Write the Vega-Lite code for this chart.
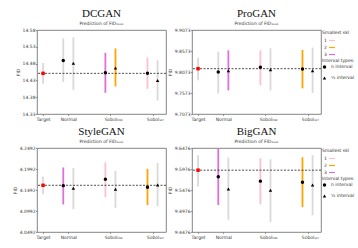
{
  "$schema": "https://vega.github.io/schema/vega-lite/v6.json",
  "padding": {"left": 11, "top": 7, "right": 0, "bottom": 0},
  "background": "white",
  "datasets": {
    "d": [
      {"m": "DCGAN", "g": "Target", "k": "t", "s": "0", "x": 0, "v": 14.451, "lo": 14.42, "hi": 14.482},
      {"m": "DCGAN", "g": "Normal", "k": "n", "s": "0", "x": 1.2, "v": 14.489, "lo": 14.425, "hi": 14.555},
      {"m": "DCGAN", "g": "Normal", "k": "h", "s": "0", "x": 1.8, "v": 14.481, "lo": 14.402, "hi": 14.558},
      {"m": "DCGAN", "g": "low", "k": "n", "s": "3", "x": 3.7, "v": 14.453, "lo": 14.393, "hi": 14.512},
      {"m": "DCGAN", "g": "low", "k": "h", "s": "2", "x": 4.3, "v": 14.467, "lo": 14.412, "hi": 14.525},
      {"m": "DCGAN", "g": "scr", "k": "n", "s": "1", "x": 6.2, "v": 14.451, "lo": 14.405, "hi": 14.498},
      {"m": "DCGAN", "g": "scr", "k": "h", "s": "0", "x": 6.8, "v": 14.43, "lo": 14.37, "hi": 14.49},
      {"m": "ProGAN", "g": "Target", "k": "t", "s": "0", "x": 0, "v": 9.8152, "lo": 9.7875, "hi": 9.8414},
      {"m": "ProGAN", "g": "Normal", "k": "n", "s": "0", "x": 1.2, "v": 9.8073, "lo": 9.7557, "hi": 9.8557},
      {"m": "ProGAN", "g": "Normal", "k": "h", "s": "3", "x": 1.8, "v": 9.8105, "lo": 9.7636, "hi": 9.8589},
      {"m": "ProGAN", "g": "low", "k": "n", "s": "1", "x": 3.7, "v": 9.8184, "lo": 9.7756, "hi": 9.8589},
      {"m": "ProGAN", "g": "low", "k": "h", "s": "0", "x": 4.3, "v": 9.8129, "lo": 9.7636, "hi": 9.8637},
      {"m": "ProGAN", "g": "scr", "k": "n", "s": "2", "x": 6.2, "v": 9.8144, "lo": 9.7684, "hi": 9.8597},
      {"m": "ProGAN", "g": "scr", "k": "h", "s": "0", "x": 6.8, "v": 9.8105, "lo": 9.7573, "hi": 9.8652},
      {"m": "StyleGAN", "g": "Target", "k": "t", "s": "0", "x": 0, "v": 4.1604, "lo": 4.1388, "hi": 4.1812},
      {"m": "StyleGAN", "g": "Normal", "k": "n", "s": "3", "x": 1.2, "v": 4.1596, "lo": 4.1148, "hi": 4.2028},
      {"m": "StyleGAN", "g": "Normal", "k": "h", "s": "0", "x": 1.8, "v": 4.1532, "lo": 4.1036, "hi": 4.2012},
      {"m": "StyleGAN", "g": "low", "k": "n", "s": "1", "x": 3.7, "v": 4.1748, "lo": 4.132, "hi": 4.2148},
      {"m": "StyleGAN", "g": "low", "k": "h", "s": "0", "x": 4.3, "v": 4.1508, "lo": 4.1068, "hi": 4.1948},
      {"m": "StyleGAN", "g": "scr", "k": "n", "s": "2", "x": 6.2, "v": 4.156, "lo": 4.1132, "hi": 4.1996},
      {"m": "StyleGAN", "g": "scr", "k": "h", "s": "0", "x": 6.8, "v": 4.1612, "lo": 4.1108, "hi": 4.2132},
      {"m": "BigGAN", "g": "Target", "k": "t", "s": "0", "x": 0, "v": 9.5948, "lo": 9.5557, "hi": 9.6305},
      {"m": "BigGAN", "g": "Normal", "k": "n", "s": "3", "x": 1.2, "v": 9.5793, "lo": 9.5118, "hi": 9.6452},
      {"m": "BigGAN", "g": "Normal", "k": "h", "s": "0", "x": 1.8, "v": 9.55, "lo": 9.4769, "hi": 9.6248},
      {"m": "BigGAN", "g": "low", "k": "n", "s": "1", "x": 3.7, "v": 9.5687, "lo": 9.5135, "hi": 9.6232},
      {"m": "BigGAN", "g": "low", "k": "h", "s": "0", "x": 4.3, "v": 9.5468, "lo": 9.4712, "hi": 9.6208},
      {"m": "BigGAN", "g": "scr", "k": "n", "s": "2", "x": 6.2, "v": 9.5663, "lo": 9.507, "hi": 9.6256},
      {"m": "BigGAN", "g": "scr", "k": "h", "s": "0", "x": 6.8, "v": 9.5598, "lo": 9.4874, "hi": 9.6305}
    ]
  },
  "columns": 2,
  "bounds": "flush",
  "spacing": {"row": 34, "column": 26},
  "resolve": {
    "scale": {"x": "independent", "y": "independent", "color": "independent", "shape": "independent"},
    "legend": {"color": "independent", "shape": "independent"},
    "axis": {"x": "independent", "y": "independent"}
  },
  "concat": [
    {
      "width": 129, "height": 84,
      "data": {"name": "d"},
      "transform": [{"filter": "datum.m === 'DCGAN'"}],
      "title": {"text": "DCGAN", "subtitle": "Prediction of FID₁₀₀ₖ"},
      "layer": [
        {
          "mark": {"type": "rule", "strokeWidth": 1.8},
          "encoding": {
            "x": {"field": "x", "type": "quantitative", "scale": {"domain": [-0.36, 7.3], "nice": false, "zero": false},
                  "axis": {"values": [0, 1.5, 4, 6.5], "tickCount": 20, "title": null, "labelOverlap": false, "labelExpr": "datum.value < 1 ? 'Target' : datum.value < 2 ? 'Normal' : 'Sobol'"}},
            "y": {"field": "lo", "type": "quantitative", "scale": {"domain": [14.33, 14.58], "nice": false, "zero": false},
                  "axis": {"values": [14.33, 14.38, 14.43, 14.48, 14.53, 14.58], "tickCount": 20, "format": ".2f", "title": "FID", "labelOverlap": false, "labelFlush": false}},
            "y2": {"field": "hi"},
            "color": {"field": "s", "type": "nominal", "scale": {"domain": ["1", "2", "3", "0"], "range": ["#ffc0cb", "#ffa500", "#dd70dd", "#d9d9d9"]}, "legend": null}
          }
        },
        {
          "transform": [{"filter": "datum.k === 't'"}],
          "mark": {"type": "rule", "strokeDash": [2, 1.5], "strokeWidth": 0.8, "color": "#222"},
          "encoding": {"y": {"field": "v", "type": "quantitative"}}
        },
        {
          "transform": [{"filter": "datum.k !== 't'"}],
          "mark": {"type": "point", "filled": true, "size": 12, "color": "black", "opacity": 1},
          "encoding": {
            "x": {"field": "x", "type": "quantitative"},
            "y": {"field": "v", "type": "quantitative"},
            "shape": {"field": "k", "type": "nominal", "scale": {"domain": ["n", "h"], "range": ["circle", "triangle-up"]}, "legend": null}
          }
        },
        {
          "transform": [{"filter": "datum.k === 't'"}],
          "mark": {"type": "square", "filled": true, "size": 12, "color": "#ff0000", "opacity": 1},
          "encoding": {"x": {"field": "x", "type": "quantitative"}, "y": {"field": "v", "type": "quantitative"}}
        },
        {
          "transform": [{"filter": "datum.k === 'n' && (datum.g === 'low' || datum.g === 'scr')"}],
          "mark": {"type": "text", "fontSize": 3, "align": "left", "baseline": "top", "dx": 12, "dy": 5, "color": "#333", "font": "DejaVu Sans"},
          "encoding": {"x": {"field": "x", "type": "quantitative"}, "y": {"datum": 14.33, "type": "quantitative"}, "text": {"field": "g"}}
        }
      ]
    },
    {
      "width": 129, "height": 84,
      "data": {"name": "d"},
      "transform": [{"filter": "datum.m === 'ProGAN'"}],
      "title": {"text": "ProGAN", "subtitle": "Prediction of FID₁₀₀ₖ"},
      "layer": [
        {
          "mark": {"type": "rule", "strokeWidth": 1.8},
          "encoding": {
            "x": {"field": "x", "type": "quantitative", "scale": {"domain": [-0.36, 7.3], "nice": false, "zero": false},
                  "axis": {"values": [0, 1.5, 4, 6.5], "tickCount": 20, "title": null, "labelOverlap": false, "labelExpr": "datum.value < 1 ? 'Target' : datum.value < 2 ? 'Normal' : 'Sobol'"}},
            "y": {"field": "lo", "type": "quantitative", "scale": {"domain": [9.7073, 9.9073], "nice": false, "zero": false},
                  "axis": {"values": [9.7073, 9.7573, 9.8073, 9.8573, 9.9073], "tickCount": 20, "format": ".4f", "title": "FID", "labelOverlap": false, "labelFlush": false}},
            "y2": {"field": "hi"},
            "color": {"field": "s", "type": "nominal", "scale": {"domain": ["1", "2", "3", "0"], "range": ["#ffc0cb", "#ffa500", "#dd70dd", "#d9d9d9"]},
                      "legend": {"title": "Smallest skl", "values": ["1", "2", "3"], "orient": "none", "legendX": 130, "legendY": 0, "symbolType": "stroke", "symbolStrokeWidth": 1.2, "symbolSize": 36, "symbolOffset": 6, "labelOffset": -12, "rowPadding": 0}}
          }
        },
        {
          "transform": [{"filter": "datum.k === 't'"}],
          "mark": {"type": "rule", "strokeDash": [2, 1.5], "strokeWidth": 0.8, "color": "#222"},
          "encoding": {"y": {"field": "v", "type": "quantitative"}}
        },
        {
          "transform": [{"filter": "datum.k !== 't'"}],
          "mark": {"type": "point", "filled": true, "size": 12, "color": "black", "opacity": 1},
          "encoding": {
            "x": {"field": "x", "type": "quantitative"},
            "y": {"field": "v", "type": "quantitative"},
            "shape": {"field": "k", "type": "nominal", "scale": {"domain": ["n", "h"], "range": ["circle", "triangle-up"]},
                      "legend": {"title": "Interval types:", "orient": "none", "legendX": 130, "legendY": 28, "labelExpr": "datum.label === 'n' ? 'n interval' : 'ⁿ⁄₂ interval'", "symbolSize": 12}}
          }
        },
        {
          "transform": [{"filter": "datum.k === 't'"}],
          "mark": {"type": "square", "filled": true, "size": 12, "color": "#ff0000", "opacity": 1},
          "encoding": {"x": {"field": "x", "type": "quantitative"}, "y": {"field": "v", "type": "quantitative"}}
        },
        {
          "transform": [{"filter": "datum.k === 'n' && (datum.g === 'low' || datum.g === 'scr')"}],
          "mark": {"type": "text", "fontSize": 3, "align": "left", "baseline": "top", "dx": 12, "dy": 5, "color": "#333", "font": "DejaVu Sans"},
          "encoding": {"x": {"field": "x", "type": "quantitative"}, "y": {"datum": 9.7073, "type": "quantitative"}, "text": {"field": "g"}}
        }
      ]
    },
    {
      "width": 129, "height": 84,
      "data": {"name": "d"},
      "transform": [{"filter": "datum.m === 'StyleGAN'"}],
      "title": {"text": "StyleGAN", "subtitle": "Prediction of FID₁₀₀ₖ"},
      "layer": [
        {
          "mark": {"type": "rule", "strokeWidth": 1.8},
          "encoding": {
            "x": {"field": "x", "type": "quantitative", "scale": {"domain": [-0.36, 7.3], "nice": false, "zero": false},
                  "axis": {"values": [0, 1.5, 4, 6.5], "tickCount": 20, "title": null, "labelOverlap": false, "labelExpr": "datum.value < 1 ? 'Target' : datum.value < 2 ? 'Normal' : 'Sobol'"}},
            "y": {"field": "lo", "type": "quantitative", "scale": {"domain": [4.0492, 4.2492], "nice": false, "zero": false},
                  "axis": {"values": [4.0492, 4.0992, 4.1492, 4.1992, 4.2492], "tickCount": 20, "format": ".4f", "title": "FID", "labelOverlap": false, "labelFlush": false}},
            "y2": {"field": "hi"},
            "color": {"field": "s", "type": "nominal", "scale": {"domain": ["1", "2", "3", "0"], "range": ["#ffc0cb", "#ffa500", "#dd70dd", "#d9d9d9"]}, "legend": null}
          }
        },
        {
          "transform": [{"filter": "datum.k === 't'"}],
          "mark": {"type": "rule", "strokeDash": [2, 1.5], "strokeWidth": 0.8, "color": "#222"},
          "encoding": {"y": {"field": "v", "type": "quantitative"}}
        },
        {
          "transform": [{"filter": "datum.k !== 't'"}],
          "mark": {"type": "point", "filled": true, "size": 12, "color": "black", "opacity": 1},
          "encoding": {
            "x": {"field": "x", "type": "quantitative"},
            "y": {"field": "v", "type": "quantitative"},
            "shape": {"field": "k", "type": "nominal", "scale": {"domain": ["n", "h"], "range": ["circle", "triangle-up"]}, "legend": null}
          }
        },
        {
          "transform": [{"filter": "datum.k === 't'"}],
          "mark": {"type": "square", "filled": true, "size": 12, "color": "#ff0000", "opacity": 1},
          "encoding": {"x": {"field": "x", "type": "quantitative"}, "y": {"field": "v", "type": "quantitative"}}
        },
        {
          "transform": [{"filter": "datum.k === 'n' && (datum.g === 'low' || datum.g === 'scr')"}],
          "mark": {"type": "text", "fontSize": 3, "align": "left", "baseline": "top", "dx": 12, "dy": 5, "color": "#333", "font": "DejaVu Sans"},
          "encoding": {"x": {"field": "x", "type": "quantitative"}, "y": {"datum": 4.0492, "type": "quantitative"}, "text": {"field": "g"}}
        }
      ]
    },
    {
      "width": 129, "height": 84,
      "data": {"name": "d"},
      "transform": [{"filter": "datum.m === 'BigGAN'"}],
      "title": {"text": "BigGAN", "subtitle": "Prediction of FID₁₀₀ₖ"},
      "layer": [
        {
          "mark": {"type": "rule", "strokeWidth": 1.8},
          "encoding": {
            "x": {"field": "x", "type": "quantitative", "scale": {"domain": [-0.36, 7.3], "nice": false, "zero": false},
                  "axis": {"values": [0, 1.5, 4, 6.5], "tickCount": 20, "title": null, "labelOverlap": false, "labelExpr": "datum.value < 1 ? 'Target' : datum.value < 2 ? 'Normal' : 'Sobol'"}},
            "y": {"field": "lo", "type": "quantitative", "scale": {"domain": [9.4476, 9.6476], "nice": false, "zero": false},
                  "axis": {"values": [9.4476, 9.4976, 9.5476, 9.5976, 9.6476], "tickCount": 20, "format": ".4f", "title": "FID", "labelOverlap": false, "labelFlush": false}},
            "y2": {"field": "hi"},
            "color": {"field": "s", "type": "nominal", "scale": {"domain": ["1", "2", "3", "0"], "range": ["#ffc0cb", "#ffa500", "#dd70dd", "#d9d9d9"]},
                      "legend": {"title": "Smallest skl", "values": ["1", "2", "3"], "orient": "none", "legendX": 130, "legendY": 0, "symbolType": "stroke", "symbolStrokeWidth": 1.2, "symbolSize": 36, "symbolOffset": 6, "labelOffset": -12, "rowPadding": 0}}
          }
        },
        {
          "transform": [{"filter": "datum.k === 't'"}],
          "mark": {"type": "rule", "strokeDash": [2, 1.5], "strokeWidth": 0.8, "color": "#222"},
          "encoding": {"y": {"field": "v", "type": "quantitative"}}
        },
        {
          "transform": [{"filter": "datum.k !== 't'"}],
          "mark": {"type": "point", "filled": true, "size": 12, "color": "black", "opacity": 1},
          "encoding": {
            "x": {"field": "x", "type": "quantitative"},
            "y": {"field": "v", "type": "quantitative"},
            "shape": {"field": "k", "type": "nominal", "scale": {"domain": ["n", "h"], "range": ["circle", "triangle-up"]},
                      "legend": {"title": "Interval types:", "orient": "none", "legendX": 130, "legendY": 28, "labelExpr": "datum.label === 'n' ? 'n interval' : 'ⁿ⁄₂ interval'", "symbolSize": 12}}
          }
        },
        {
          "transform": [{"filter": "datum.k === 't'"}],
          "mark": {"type": "square", "filled": true, "size": 12, "color": "#ff0000", "opacity": 1},
          "encoding": {"x": {"field": "x", "type": "quantitative"}, "y": {"field": "v", "type": "quantitative"}}
        },
        {
          "transform": [{"filter": "datum.k === 'n' && (datum.g === 'low' || datum.g === 'scr')"}],
          "mark": {"type": "text", "fontSize": 3, "align": "left", "baseline": "top", "dx": 12, "dy": 5, "color": "#333", "font": "DejaVu Sans"},
          "encoding": {"x": {"field": "x", "type": "quantitative"}, "y": {"datum": 9.4476, "type": "quantitative"}, "text": {"field": "g"}}
        }
      ]
    }
  ],
  "config": {
    "view": {"stroke": "#666", "strokeWidth": 0.8},
    "axis": {"labelFontSize": 4.5, "labelColor": "#333", "labelFont": "DejaVu Sans", "titleFont": "DejaVu Sans", "titleFontSize": 4.5, "titleFontWeight": "normal", "titleColor": "#333", "tickSize": 1.5, "tickColor": "#555", "tickWidth": 0.6, "domain": false, "grid": false, "labelPadding": 0.5, "titlePadding": 2, "labelOverlap": false, "labelFlush": false},
    "legend": {"labelFontSize": 4.5, "titleFontSize": 4.5, "titleFontWeight": "normal", "labelFont": "DejaVu Sans", "titleFont": "DejaVu Sans", "labelColor": "#333", "titleColor": "#333", "rowPadding": 1, "titlePadding": 2, "padding": 0},
    "title": {"font": "Liberation Serif", "fontSize": 11, "fontWeight": "normal", "color": "#111", "subtitleFont": "DejaVu Sans", "subtitleFontSize": 4.5, "subtitleColor": "#333", "subtitlePadding": 2, "offset": 2, "anchor": "middle"}
  }
}
